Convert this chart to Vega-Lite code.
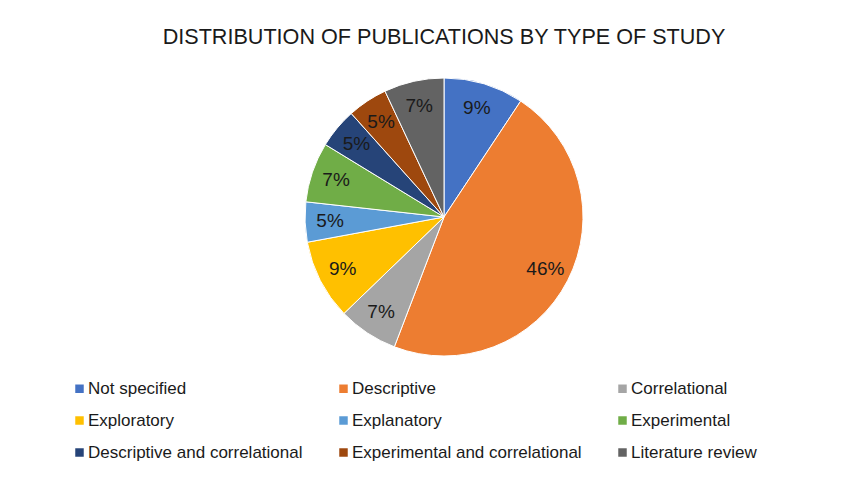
{
  "$schema": "https://vega.github.io/schema/vega-lite/v6.json",
  "width": 838,
  "height": 294,
  "autosize": {"type": "none"},
  "padding": {"left": 25, "top": 70, "right": 0, "bottom": 119},
  "background": "white",
  "config": {"view": {"stroke": null}},
  "title": {
    "text": "DISTRIBUTION OF PUBLICATIONS BY TYPE OF STUDY",
    "fontSize": 21.6,
    "font": "Liberation Sans",
    "fontWeight": "normal",
    "color": "#1a1a1a",
    "anchor": "middle",
    "offset": 21
  },
  "data": {
    "values": [
      {"type": "Not specified", "count": 4, "rank": 1, "label": "9%"},
      {"type": "Descriptive", "count": 20, "rank": 2, "label": "46%"},
      {"type": "Correlational", "count": 3, "rank": 3, "label": "7%"},
      {"type": "Exploratory", "count": 4, "rank": 4, "label": "9%"},
      {"type": "Explanatory", "count": 2, "rank": 5, "label": "5%"},
      {"type": "Experimental", "count": 3, "rank": 6, "label": "7%"},
      {"type": "Descriptive and correlational", "count": 2, "rank": 7, "label": "5%"},
      {"type": "Experimental and correlational", "count": 2, "rank": 8, "label": "5%"},
      {"type": "Literature review", "count": 3, "rank": 9, "label": "7%"}
    ]
  },
  "encoding": {
    "theta": {"field": "count", "type": "quantitative", "stack": true},
    "order": {"field": "rank", "type": "quantitative"},
    "color": {
      "field": "type",
      "type": "nominal",
      "scale": {
        "domain": ["Not specified", "Descriptive", "Correlational", "Exploratory", "Explanatory", "Experimental", "Descriptive and correlational", "Experimental and correlational", "Literature review"],
        "range": ["#4472C4", "#ED7D31", "#A5A5A5", "#FFC000", "#5B9BD5", "#70AD47", "#264478", "#9E480E", "#636363"]
      },
      "legend": {
        "title": null,
        "orient": "none",
        "legendX": 46,
        "legendY": 310,
        "direction": "horizontal",
        "columns": 3,
        "padding": 0,
        "symbolType": "square",
        "symbolSize": 72,
        "symbolStrokeWidth": 0,
        "labelFont": "Liberation Sans",
        "labelFontSize": 17,
        "labelColor": "#1a1a1a",
        "labelOffset": 0,
        "labelLimit": 300,
        "rowPadding": 14,
        "columnPadding": 32
      }
    }
  },
  "layer": [
    {"mark": {"type": "arc", "outerRadius": 139, "stroke": "white", "strokeWidth": 1}},
    {
      "mark": {"type": "text", "radius": 114, "fontSize": 19, "font": "Liberation Sans"},
      "encoding": {
        "text": {"field": "label", "type": "nominal"},
        "color": {"value": "#1a1a1a"}
      }
    }
  ]
}
